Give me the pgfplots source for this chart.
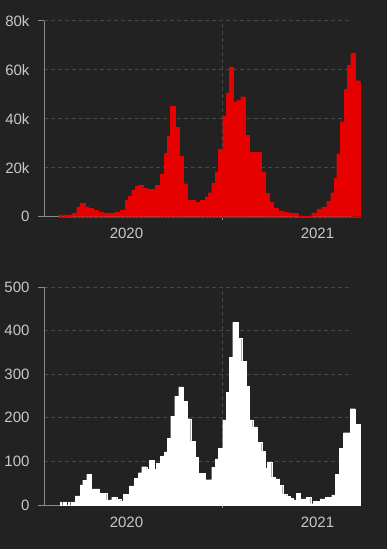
\documentclass[border=0pt]{standalone}
\usepackage{pgfplots}
\pgfplotsset{compat=1.18}
\usepackage{fontspec}
\setmainfont{Liberation Sans}
\definecolor{bg}{HTML}{222222}
\definecolor{gridc}{HTML}{484848}
\definecolor{axc}{HTML}{8A8A8A}
\definecolor{txt}{HTML}{C8C8C8}
\definecolor{barred}{HTML}{E60000}
\pgfplotsset{
  mystyle/.style={
    scale only axis, width=308pt, anchor=south west, clip=false,
    xmin=44, xmax=352, ymin=0,
    axis x line*=bottom, axis y line*=left,
    axis line style={axc, line width=0.8pt, -},
    tick label style={txt, font=\fontsize{15}{18}\selectfont},
    /pgf/number format/assume math mode=true,
    scaled y ticks=false,
    tick align=outside,
    major tick length=0pt,
    xtick={126.5,317.5}, xticklabels={2020,2021},
    xticklabel style={yshift=-8pt},
    yticklabel style={xshift=-11pt},
    ymajorgrids,
    major grid style={gridc, dash pattern=on 4pt off 3pt, line width=0.8pt},
    tick style={axc, line width=0.8pt},
    extra x ticks={222}, extra x tick labels={},
    extra x tick style={grid=major, major tick length=3pt},
    extra y tick labels={},
    extra y tick style={grid=none, major tick length=6pt},
  }
}
\begin{document}
\begin{tikzpicture}
\fill[bg] (0,0) rectangle (387pt,549pt);
\begin{axis}[mystyle, at={(44pt,332.3pt)}, height=196pt,
  ymax=80000, ytick={0,20000,40000,60000,80000},
  yticklabels={0,20k,40k,60k,80k}, extra y ticks={0,80000}]
\addplot[ybar interval, fill=barred, draw=barred, line width=0.2pt] coordinates {
(59,800)(60,0)(61.3,800)(62.3,0)(63.7,800)(64.7,0)(66,800)(67,0)(68.3,800)(69.3,0)(70.5,800)
(71.7,1400)(76.7,4000)(80,5400)(85,4000)(88.3,3400)(93.3,2700)(98.3,2000)(103.3,1400)
(108.3,1600)(115,2000)(120,2700)(125,6800)(128.3,8400)(131.7,10900)(135,12500)(138.3,12900)
(142.7,11600)(146.7,11200)(155,12900)(160,17400)(164,25900)(167.3,32900)(170,45200)
(175,36500)(179,24800)(183,13500)(187,6800)(195,5900)(200,6800)(205,8200)(208.3,9800)
(211.7,13600)(215,18400)(218.3,27500)(222.7,41100)(226,50300)(229.3,61200)(233.3,46900)
(236.7,47600)(240.7,49000)(245,33300)(249.3,26500)(261.3,18400)(265.3,9500)(269.3,6100)
(273.3,3400)(278.3,2400)(283.3,2000)(288.3,1600)(293.3,1400)(298.3,300)(311.7,1600)
(316.7,3000)(321.7,4000)(326.7,6400)(330.7,9800)(334,15600)(336.7,25600)(340,38800)
(344,52000)(347.3,61900)(350.7,66700)(355,55500)(360,0)
};
\end{axis}
\begin{axis}[mystyle, at={(44pt,44pt)}, height=218pt,
  ymax=500, ytick={0,100,200,300,400,500},
  yticklabels={0,100,200,300,400,500}, extra y ticks={0,500}]
\addplot[ybar interval, fill=white, draw=white, line width=0.2pt] coordinates {
(60,7)(61,0)(62.7,7)(63.7,0)(65.3,7)(66.3,0)(68,7)(69,0)(70.7,7)(71.7,0)(73.3,7)(74.3,0)
(75.3,21)(80,46)(82.7,57)(86.7,70)(91.3,37)(99.3,27)(106.7,12)(111.7,18)(116.7,13)(120.7,9)
(123.3,25)(129.3,44)(134,61)(138.3,74)(141.7,88)(146.7,82)(149.3,103)(154,82)(156,96)
(160,112)(164,122)(167.3,153)(170.7,204)(174.7,250)(178.7,271)(183.3,238)(187.3,198)
(190.7,146)(195,109)(198.3,73)(205,58)(211.7,87)(215,106)(218.3,130)(222.7,195)(226,259)
(229.3,339)(232.7,419)(238.3,383)(241.7,330)(246,272)(249.3,195)(252.7,179)(257.3,144)
(261.7,123)(265,85)(267.3,98)(271.7,64)(275,60)(279.3,45)(282.7,25)(286.7,20)(290,16)
(293.3,12)(296,27)(300,14)(306,18)(310.7,3)(313.3,8)(319,3)(320,14)(325,18)(331.7,23)
(335,70)(339.3,130)(343.3,166)(350,221)(355,185)(360,0)
};
\end{axis}
\end{tikzpicture}
\end{document}
